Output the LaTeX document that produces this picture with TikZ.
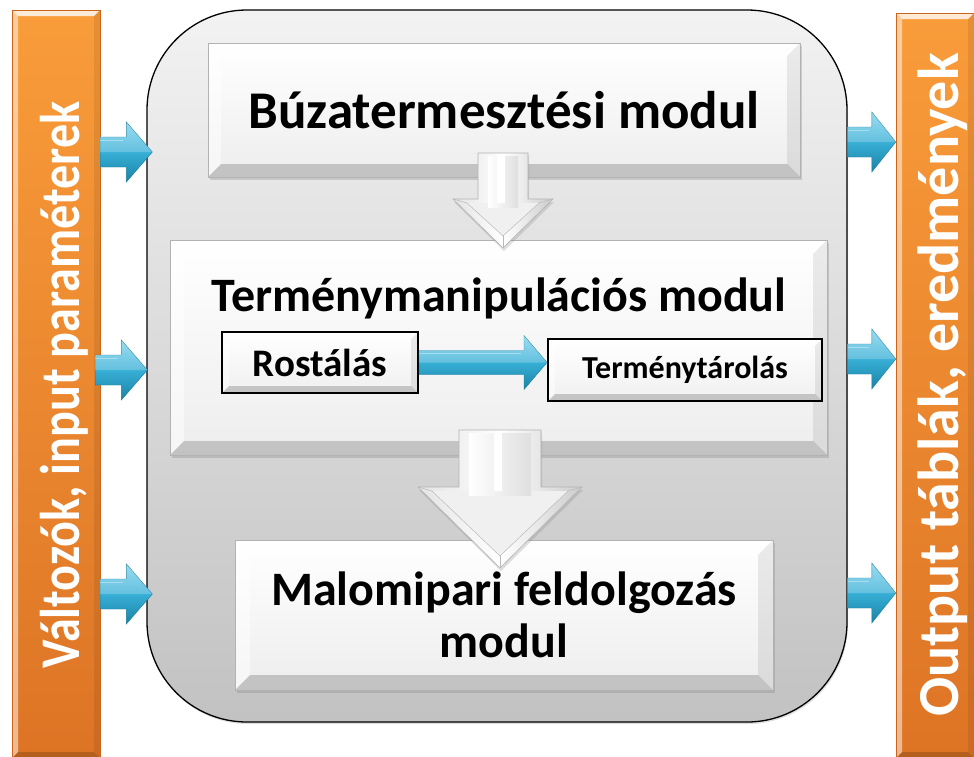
\documentclass[tikz,border=0pt]{standalone}
\usepackage{fontspec}
\setmainfont{Carlito}
\usetikzlibrary{calc,shadows}
\definecolor{orTop}{HTML}{F99C3A}
\definecolor{orBot}{HTML}{DD7425}
\definecolor{orEdge}{HTML}{C9661C}
\definecolor{blTop}{HTML}{7CD3EC}
\definecolor{blMid}{HTML}{38AFD6}
\definecolor{blBot}{HTML}{1A82A6}
\definecolor{blEdge}{HTML}{1B7E9F}
\tikzset{
  bevel/.style={path picture={
    \coordinate (bNW) at (path picture bounding box.north west);
    \coordinate (bNE) at (path picture bounding box.north east);
    \coordinate (bSW) at (path picture bounding box.south west);
    \coordinate (bSE) at (path picture bounding box.south east);
    \fill[white,opacity=.8] (bNW) -- (bNE) -- ($(bNE)+(-#1,#1)$) -- ($(bNW)+(#1,#1)$) -- cycle;
    \fill[white,opacity=.5] (bNW) -- (bSW) -- ($(bSW)+(#1,-#1)$) -- ($(bNW)+(#1,#1)$) -- cycle;
    \fill[black,opacity=.08] (bNE) -- (bSE) -- ($(bSE)+(-#1,-#1)$) -- ($(bNE)+(-#1,#1)$) -- cycle;
    \fill[black,opacity=.18] (bSW) -- (bSE) -- ($(bSE)+(-#1,-#1)$) -- ($(bSW)+(#1,-#1)$) -- cycle;
  }},
  module/.style={draw=gray!60, line width=0.8pt, top color=white, bottom color=gray!14,
    bevel=#1, font=\bfseries, text=black, align=center, inner sep=0pt,
    drop shadow={shadow xshift=1.5pt, shadow yshift=-3pt, opacity=.3}},
  subbox/.style={draw=black, line width=2pt, top color=white, bottom color=gray!12,
    bevel=7, font=\bfseries, text=black, inner sep=0pt},
  bar/.style={draw=orEdge, line width=0.4pt, top color=orTop, bottom color=orBot, bevel=6, inner sep=0pt},
  bartext/.style={rotate=90, text=white, inner sep=0pt, anchor=base},
  mainbox/.style={draw=black, line width=1.3pt, rounded corners=100pt, top color=gray!10, bottom color=gray!48,
    drop shadow={shadow xshift=1pt, shadow yshift=-2pt, opacity=.25}},
  bluefill/.style={top color=blTop, bottom color=blBot, middle color=blMid, draw=blEdge, line width=0.4pt},
  grayarrow/.style={left color=gray!22, right color=gray!40, middle color=white, draw=gray!60, line width=0.6pt,
    drop shadow={shadow xshift=1pt, shadow yshift=-3pt, opacity=.25}},
}
\newcommand\bluearrow[5]{%
  \path[bluefill] let \p1=#1, \p2=#2 in
    (\x1,\y2+#4pt) -- (\x2-#3pt,\y2+#4pt) -- (\x2-#3pt,\y2+#5pt) -- (\x2,\y2)
    -- (\x2-#3pt,\y2-#5pt) -- (\x2-#3pt,\y2-#4pt) -- (\x1,\y2-#4pt) -- cycle;
  \path[fill=white,opacity=.22] let \p1=#1, \p2=#2 in
    (\x1,\y2+#4pt) -- (\x2-#3pt,\y2+#4pt) -- (\x2-#3pt,\y2+#5pt) -- (\x2,\y2) -- (\x1,\y2) -- cycle;
  \path[draw=white,opacity=.35,line width=0.6pt] let \p1=#1, \p2=#2 in
    (\x1,\y2+#4pt-3pt) -- (\x2-#3pt-3pt,\y2+#4pt-3pt);
}
\newcommand\gdarrow[6]{% cx, top, tip, shaft half, head half, head start
  \path[grayarrow] (#1-#4,#2) -- (#1+#4,#2) -- (#1+#4,#6) -- (#1+#5,#6) -- (#1,#3)
    -- (#1-#5,#6) -- (#1-#4,#6) -- cycle;
  \fill[gray!12] (#1-#5+14,#6+4) -- (#1+#5-14,#6+4) -- (#1,#3-12) -- cycle;
  \shade[left color=white, right color=gray!25] (#1-#4+10,#2+3) rectangle (#1+#4-10,#6+8);
  \fill[white] (#1-6,#2+3) rectangle (#1+2,#6+4);
  \draw[gray!55, line width=0.5pt] (#1-#5,#6) -- (#1-#5+14,#6+4) -- (#1,#3-12) -- (#1+#5-14,#6+4) -- (#1+#5,#6);
  \draw[gray!55, line width=0.5pt] (#1,#3-12) -- (#1,#3);
}
\begin{document}
\begin{tikzpicture}[x=1pt,y=-1pt]
\useasboundingbox[fill=white] (0,0) rectangle (974,756);

% side bars
\node[bar, minimum width=88pt, minimum height=748pt] (lbar) at (56,384) {};
\node[bar, minimum width=78pt, minimum height=745pt] (rbar) at (935,385.5) {};
\node[bartext, font=\bfseries\fontsize{56}{56}\selectfont] (ltext) at (79,385) {\scalebox{0.86}[1]{Változók, input paraméterek}};
\node[bartext, font=\bfseries\fontsize{58}{58}\selectfont] (rtext) at (958,385) {Output táblák, eredmények};

% main container
\node[mainbox, minimum width=700pt, minimum height=712pt] (main) at (497,366) {};

% modules
\node[module=13, minimum width=592pt, minimum height=134pt, font=\bfseries\fontsize{53}{53}\selectfont] (m1) at (504,110) {Búzatermesztési modul};
\node[module=14, minimum width=657pt, minimum height=215pt] (m2) at (498.5,347.5) {};
\node[font=\bfseries\fontsize{48}{48}\selectfont, inner sep=0pt] (m2t) at (499,298) {Terménymanipulációs modul};
\node[subbox, minimum width=196pt, minimum height=61pt, font=\bfseries\fontsize{39}{39}\selectfont] (rost) at (320,362.5) {Rostálás};
\node[subbox, minimum width=274pt, minimum height=62pt, font=\bfseries\fontsize{32}{32}\selectfont] (term) at (685,370) {Terménytárolás};
\node[module=15, minimum width=538pt, minimum height=150pt] (m3) at (504,615) {};

% down arrows between modules
\gdarrow{503}{153}{248}{25}{50}{199}
\gdarrow{500}{430}{568}{41}{82}{487}

% module 3 text on top of the arrow
\node[font=\bfseries\fontsize{48}{52}\selectfont, align=center, inner sep=0pt] (m3t) at (m3.center) {Malomipari feldolgozás\\modul};

% inner arrow
\coordinate (ia) at ($(term.west |- rost.east)$);
\bluearrow{(rost.east)}{(ia)}{23}{12}{27}

% input arrows
\coordinate (la1) at ($(main.west |- 0,152)+(6,0)$);
\coordinate (la2) at ($(main.west |- 0,370)+(1,0)$);
\coordinate (la3) at ($(main.west |- 0,594)+(6,0)$);
\bluearrow{(lbar.east |- la1)}{(la1)}{26}{15}{30}
\bluearrow{($(lbar.east |- la2)+(-5,0)$)}{(la2)}{26}{15}{30}
\bluearrow{(lbar.east |- la3)}{(la3)}{26}{15}{30}

% output arrows
\coordinate (ra1) at (rbar.west |- 0,142);
\coordinate (ra2) at (rbar.west |- 0,359);
\coordinate (ra3) at (rbar.west |- 0,593);
\bluearrow{(main.east |- ra1)}{(ra1)}{24}{15}{30}
\bluearrow{(main.east |- ra2)}{(ra2)}{24}{15}{30}
\bluearrow{(main.east |- ra3)}{(ra3)}{24}{15}{30}
\end{tikzpicture}
\end{document}
